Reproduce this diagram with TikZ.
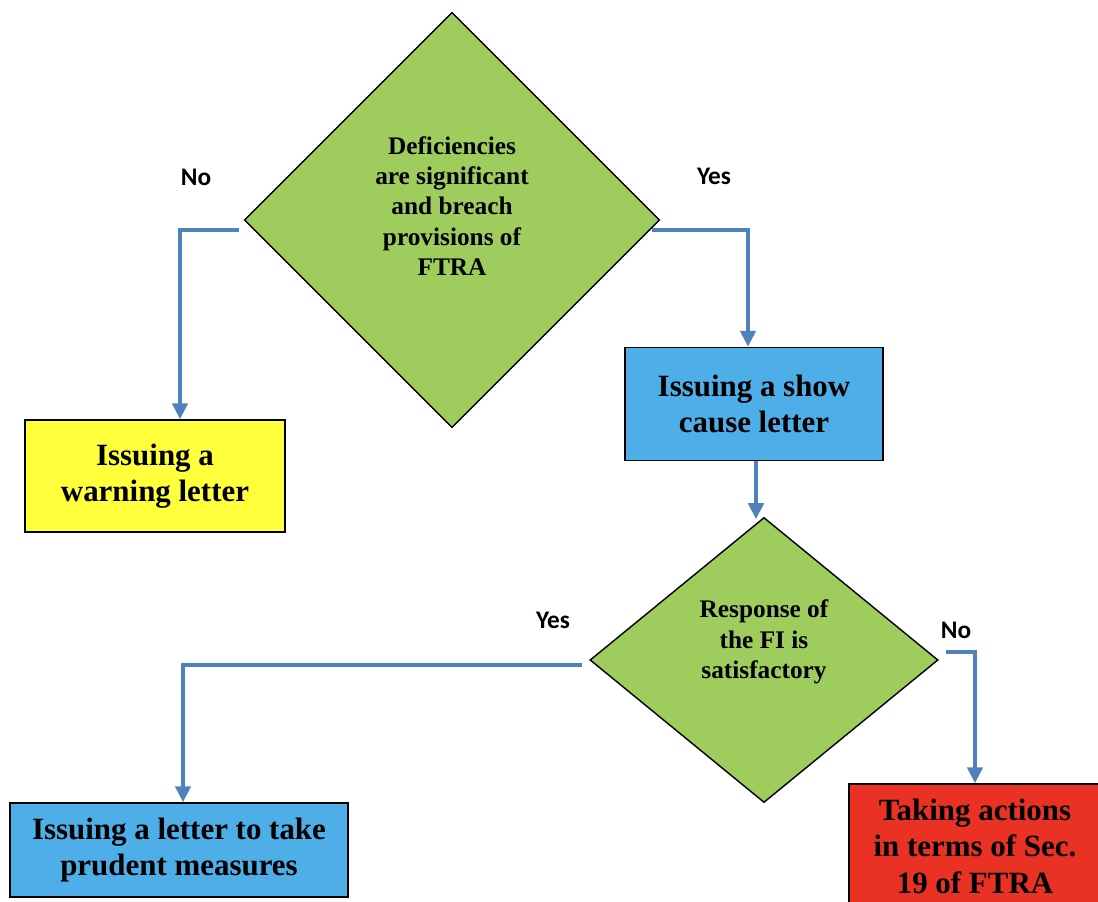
\documentclass[tikz,border=0pt]{standalone}
\usepackage{fontspec}
\setmainfont{Liberation Serif}
\newfontfamily\lblfont{Carlito}
\usetikzlibrary{shapes.geometric,arrows.meta,calc}

\definecolor{dgreen}{RGB}{158,205,94}
\definecolor{byellow}{RGB}{255,255,60}
\definecolor{bblue}{RGB}{78,174,232}
\definecolor{bred}{RGB}{234,50,36}
\definecolor{flow}{RGB}{79,129,189}

\begin{document}
\begin{tikzpicture}[x=0.025cm,y=-0.025cm,
    decision/.style={diamond,draw=black,line width=1pt,fill=dgreen,inner sep=0pt},
    dtext/.style={font=\fontsize{18}{21.5}\selectfont\bfseries,align=center},
    action/.style={rectangle,draw=black,line width=1pt,align=center,inner sep=0pt,
      font=\fontsize{22}{26}\selectfont\bfseries},
    answer/.style={font=\fontsize{18}{20}\selectfont\lblfont\bfseries},
    flowline/.style={flow,line width=2.8pt,-{Triangle[width=0.38cm,length=0.4cm]}}]
  \useasboundingbox (0,0) rectangle (1098,901);
  % decisions
  \node[decision,minimum width=10.375cm,minimum height=10.375cm] (d1) at (452,220) {};
  \node[dtext] (d1txt) at (452,206) {Deficiencies\\are significant\\and breach\\provisions of\\FTRA};
  \node[decision,minimum width=8.7cm,minimum height=7.125cm] (d2) at (764,660) {};
  \node[dtext] (d2txt) at (764,642) {Response of\\the FI is\\satisfactory};
  % outcomes
  \node[action,fill=byellow,minimum width=6.5cm,minimum height=2.8cm] (warn) at (155,476) {Issuing a\\warning letter};
  \node[action,fill=bblue,minimum width=6.45cm,minimum height=2.825cm] (show) at (754,404) {Issuing a show\\cause letter};
  \node[action,fill=bblue,minimum width=8.45cm,minimum height=2.35cm] (prud) at (179,850) {Issuing a letter to take\\prudent measures};
  \node[action,fill=bred,minimum width=6.3cm,minimum height=3.1cm] (act) at (975,846) {Taking actions\\in terms of Sec.\\19 of FTRA};
  % answers
  \node[answer] (no1) at (196,177) {No};
  \node[answer] (yes1) at (714,176) {Yes};
  \node[answer] (yes2) at (553,620) {Yes};
  \node[answer] (no2) at (956,630) {No};
  % flow
  \draw[flowline] ($(d1.west)+(-5,10)$) -| ($(warn.north)+(25,0)$);
  \draw[flowline] ($(d1.east)+(-8,10)$) -| ($(show.north)+(-6,0)$);
  \draw[flowline] ($(show.south)+(2,0)$) -- ($(show.south)+(2,58)$);
  \draw[flowline] ($(d2.west)+(-7,5)$) -| ($(prud.north)+(4,0)$);
  \draw[flowline] ($(d2.east)+(7,-8)$) -| (act.north);
\end{tikzpicture}
\end{document}
